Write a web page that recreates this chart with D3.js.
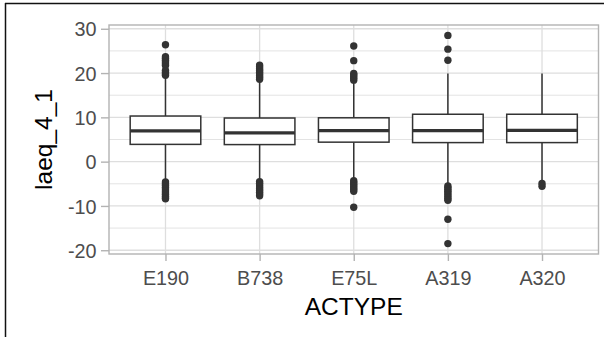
<!DOCTYPE html>
<html><head><meta charset="utf-8">
<script src="https://cdn.jsdelivr.net/npm/d3@7"></script>
<style>body{margin:0;background:#fff}svg{display:block}</style>
</head><body>
<script>
const categories = ["E190","B738","E75L","A319","A320"];
const q1      = [3.9, 3.85, 4.4, 4.3, 4.3];
const medians = [6.95, 6.5, 7.0, 7.0, 7.05];
const q3      = [10.3, 9.85, 9.9, 10.7, 10.7];
const whiskLo = [-4.3, -4.2, -4.0, -5.1, -4.7];
const whiskHi = [19.3, 18.3, 18.1, 19.9, 19.9];
const outliers = [
  [19.5,19.8,20.2,20.6,21.7,22.1,22.5,22.9,23.3,23.7,26.4,-4.6,-5.0,-5.4,-5.8,-6.2,-6.6,-7.0,-7.4,-7.8,-8.2,-8.4],
  [18.6,19.0,19.4,19.8,20.2,20.6,21.0,21.4,21.8,-4.5,-4.9,-5.3,-5.7,-6.1,-6.5,-6.9,-7.3,-7.7],
  [18.4,18.8,19.2,19.6,19.9,22.8,26.1,-4.3,-4.7,-5.1,-5.5,-5.9,-6.3,-6.7,-10.3],
  [22.9,25.4,28.5,-5.5,-5.9,-6.3,-6.7,-7.1,-7.5,-7.9,-8.3,-8.7,-13.0,-18.5],
  [-4.95,-5.55]
];
const yTicks = [-20,-10,0,10,20,30];
const yTickLabels = ["-20","-10","0","10","20","30"];
const yMinor = [-15,-5,5,15,25];
const xTitle = "ACTYPE", yTitle = "laeq_4_1";

const W = 613, H = 337;
const P = {l:109, r:598.5, t:25, b:254};
const svg = d3.select("body").append("svg").attr("width",W).attr("height",H);
const font = "'Liberation Sans', Arial, sans-serif";

const all = outliers.flat().concat(whiskLo, whiskHi);
const lo = d3.min(all), hi = d3.max(all), ex = (hi-lo)*0.05;
const y = d3.scaleLinear().domain([lo-ex, hi+ex]).range([P.b, P.t]);
const x = d3.scalePoint().domain(categories).range([P.l, P.r]).padding(0.6);
const bw = x.step()*0.75;

// outer frame
svg.append("line").attr("x1",5).attr("x2",604).attr("y1",3.5).attr("y2",3.5).attr("stroke","#111").attr("stroke-width",1.5);
svg.append("line").attr("x1",5.5).attr("x2",5.5).attr("y1",3).attr("y2",H).attr("stroke","#111").attr("stroke-width",1.5);

// grid
const g = svg.append("g");
g.selectAll(".mn").data(yMinor).join("line").attr("x1",P.l).attr("x2",P.r).attr("y1",d=>y(d)).attr("y2",d=>y(d)).attr("stroke","#e3e3e3").attr("stroke-width",1);
g.selectAll(".mj").data(yTicks).join("line").attr("x1",P.l).attr("x2",P.r).attr("y1",d=>y(d)).attr("y2",d=>y(d)).attr("stroke","#dedede").attr("stroke-width",1.3);
g.selectAll(".vx").data(categories).join("line").attr("x1",d=>x(d)).attr("x2",d=>x(d)).attr("y1",P.t).attr("y2",P.b).attr("stroke","#dedede").attr("stroke-width",1.3);

// boxes
const bx = svg.append("g");
categories.forEach((c,i)=>{
  const cx = x(c);
  bx.append("line").attr("x1",cx).attr("x2",cx).attr("y1",y(q3[i])).attr("y2",y(whiskHi[i])).attr("stroke","#333").attr("stroke-width",1.5);
  bx.append("line").attr("x1",cx).attr("x2",cx).attr("y1",y(q1[i])).attr("y2",y(whiskLo[i])).attr("stroke","#333").attr("stroke-width",1.5);
  bx.append("rect").attr("x",cx-bw/2).attr("width",bw).attr("y",y(q3[i])).attr("height",y(q1[i])-y(q3[i]))
    .attr("fill","#fff").attr("stroke","#333").attr("stroke-width",1.5);
  bx.append("line").attr("x1",cx-bw/2).attr("x2",cx+bw/2).attr("y1",y(medians[i])).attr("y2",y(medians[i])).attr("stroke","#333").attr("stroke-width",3.2);
  bx.selectAll(null).data(outliers[i]).join("circle").attr("cx",cx).attr("cy",d=>y(d)).attr("r",3.7).attr("fill","#333");
});

// panel border
svg.append("rect").attr("x",P.l).attr("y",P.t).attr("width",P.r-P.l).attr("height",P.b-P.t).attr("fill","none").attr("stroke","#b3b3b3").attr("stroke-width",1.4);

// axes
const ya = svg.append("g").attr("transform",`translate(${P.l},0)`).call(d3.axisLeft(y).tickValues(yTicks).tickSize(8).tickPadding(4.5).tickFormat((d,i)=>yTickLabels[i]));
const xa = svg.append("g").attr("transform",`translate(0,${P.b})`).call(d3.axisBottom(x).tickSize(7).tickPadding(4));
[ya,xa].forEach(a=>{
  a.select(".domain").remove();
  a.selectAll(".tick line").attr("stroke","#b3b3b3").attr("stroke-width",1.4);
  a.selectAll(".tick text").attr("fill","#4d4d4d").attr("font-family",font).attr("font-size","19.8px");
});
xa.selectAll(".tick text").attr("dy",null).attr("y",31);
ya.selectAll(".tick text").attr("dy","0.36em");

svg.append("text").attr("x",(P.l+P.r)/2).attr("y",315).attr("text-anchor","middle").attr("font-family",font).attr("font-size","24.5px").attr("fill","#000").text(xTitle);
svg.append("text").attr("transform",`translate(51.5,${(P.t+P.b)/2}) rotate(-90)`).attr("text-anchor","middle").attr("font-family",font).attr("font-size","24.5px").attr("fill","#000").text(yTitle);
</script>
</body></html>
